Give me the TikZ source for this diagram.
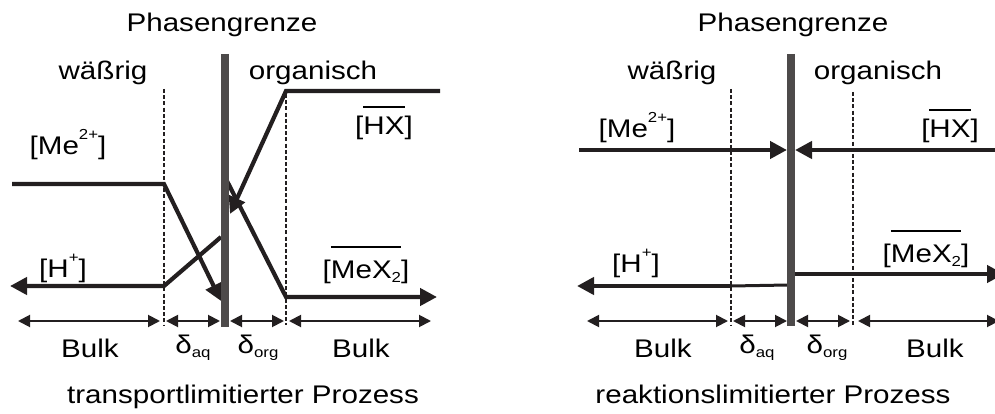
\documentclass[tikz,border=0pt]{standalone}
\usepackage{fontspec}
\setmainfont[FakeStretch=1.16]{Liberation Sans}
\usetikzlibrary{arrows.meta}
\definecolor{ink}{RGB}{35,31,32}
\definecolor{wallgray}{RGB}{77,74,74}
% small raised / lowered indices
\newcommand\supr[1]{\raisebox{15pt}{\fontsize{14.5}{14.5}\selectfont #1}}
\newcommand\subr[1]{\raisebox{-4pt}{\fontsize{14.5}{14.5}\selectfont #1}}
% bar over a species of the organic phase
\newcommand\ovl[2][9pt]{\leavevmode\vbox{\hrule height 2pt\kern#1\hbox{#2}}}
\begin{document}
\begin{tikzpicture}[x=1pt,y=-1pt,
  txt/.style={inner sep=0pt, anchor=base, font=\fontsize{25.5}{25.5}\selectfont},
  wall/.style={line width=8pt, draw=wallgray},
  sep/.style={line width=1.6pt, draw=ink, dash pattern=on 4pt off 2.2pt},
  conc/.style={line width=4.2pt, draw=ink, line join=miter, -{Triangle[length=17pt,width=17pt]}},
  flat/.style={line width=3pt, draw=ink},
  span/.style={line width=1.9pt, draw=ink,
    {Triangle[length=12pt,width=12pt]}-{Triangle[length=12pt,width=12pt]}},
]
\clip (0,0) rectangle (995,414);

% ---------------- transport-limited case ----------------
\coordinate (Lwt) at (225,54);  \coordinate (Lwb) at (225,327);
\coordinate (Ldat) at (164,89); \coordinate (Ldab) at (164,325);
\coordinate (Ldot) at (286,94); \coordinate (Ldob) at (286,325);

\coordinate (Lm0) at (12,184);  \coordinate (Lm1) at (164,184); \coordinate (Lm2) at (221,301);
\coordinate (Lx0) at (440,91);  \coordinate (Lx1) at (286,91);  \coordinate (Lx2) at (230,214);
\coordinate (Lh0) at (221,237); \coordinate (Lh1) at (164,286); \coordinate (Lh2) at (10,286);
\coordinate (Lc0) at (227,181); \coordinate (Lc1) at (286,297); \coordinate (Lc2) at (437,297);

\draw[sep] (Ldat) -- (Ldab);
\draw[sep] (Ldot) -- (Ldob);
\draw[conc] (Lm0) -- (Lm1) -- (Lm2);
\draw[conc] (Lx0) -- (Lx1) -- (Lx2);
\draw[conc] (Lh0) -- (Lh1) -- (Lh2);
\draw[conc] (Lc0) -- (Lc1) -- (Lc2);
\draw[wall] (Lwt) -- (Lwb);

\coordinate (Ls0) at (18,321);  \coordinate (Ls1) at (160,321);
\coordinate (Ls2) at (166,321); \coordinate (Ls3) at (220,321);
\coordinate (Ls4) at (230,321); \coordinate (Ls5) at (284,321);
\coordinate (Ls6) at (289,321); \coordinate (Ls7) at (431,321);
\draw[span] (Ls0) -- (Ls1);
\draw[span] (Ls2) -- (Ls3);
\draw[span] (Ls4) -- (Ls5);
\draw[span] (Ls6) -- (Ls7);

\node[txt] (Ltitle) at (222,32) {Phasengrenze};
\node[txt] (Laq)    at (103,80) {wäßrig};
\node[txt] (Lorg)   at (313,80) {organisch};
\node[txt] (LMe)    at (68,155) {[Me\supr{2+}]};
\node[txt] (LHX)    at (384,135) {[\ovl{HX}]};
\node[txt] (LH)     at (63,277) {[H\supr{+}]};
\node[txt] (LMeX)   at (366,278) {[\ovl[12pt]{MeX\subr{2}}]};
\node[txt] (Lb1)    at (90,357) {Bulk};
\node[txt] (Lda)    at (193,353) {δ\subr{aq}};
\node[txt] (Ldo)    at (258,353) {δ\subr{org}};
\node[txt] (Lb2)    at (361,357) {Bulk};
\node[txt] (Lcap)   at (243,403) {transportlimitierter Prozess};

% ---------------- reaction-limited case ----------------
\coordinate (Rwt) at (791,54);  \coordinate (Rwb) at (791,326);
\coordinate (Rdat) at (731,89); \coordinate (Rdab) at (731,325);
\coordinate (Rdot) at (853,92); \coordinate (Rdob) at (853,325);

\coordinate (Rm0) at (579,150); \coordinate (Rm1) at (787,150);
\coordinate (Rx0) at (1000,150); \coordinate (Rx1) at (795,150);
\coordinate (Rh0) at (731,286); \coordinate (Rh1) at (577,286);
\coordinate (Rh2) at (788,285);
\coordinate (Rc0) at (795,274); \coordinate (Rc1) at (1004,274);

\draw[sep] (Rdat) -- (Rdab);
\draw[sep] (Rdot) -- (Rdob);
\draw[conc] (Rm0) -- (Rm1);
\draw[conc] (Rx0) -- (Rx1);
\draw[flat] (Rh0) -- (Rh2);
\draw[conc] (Rh0) -- (Rh1);
\draw[conc] (Rc0) -- (Rc1);
\draw[wall] (Rwt) -- (Rwb);

\coordinate (Rs0) at (587,321); \coordinate (Rs1) at (728,321);
\coordinate (Rs2) at (733,321); \coordinate (Rs3) at (787,321);
\coordinate (Rs4) at (796,321); \coordinate (Rs5) at (850,321);
\coordinate (Rs6) at (858,321); \coordinate (Rs7) at (999,321);
\draw[span] (Rs0) -- (Rs1);
\draw[span] (Rs2) -- (Rs3);
\draw[span] (Rs4) -- (Rs5);
\draw[span] (Rs6) -- (Rs7);

\node[txt] (Rtitle) at (793,32) {Phasengrenze};
\node[txt] (Raq)    at (672,80) {wäßrig};
\node[txt] (Rorg)   at (878,80) {organisch};
\node[txt] (RMe)    at (637,138) {[Me\supr{2+}]};
\node[txt] (RHX)    at (950,138) {[\ovl{HX}]};
\node[txt] (RH)     at (636,272) {[H\supr{+}]};
\node[txt] (RMeX)   at (926,262) {[\ovl[12pt]{MeX\subr{2}}]};
\node[txt] (Rb1)    at (663,357) {Bulk};
\node[txt] (Rda)    at (757,353) {δ\subr{aq}};
\node[txt] (Rdo)    at (827,353) {δ\subr{org}};
\node[txt] (Rb2)    at (935,357) {Bulk};
\node[txt] (Rcap)   at (773,403) {reaktionslimitierter Prozess};
\end{tikzpicture}
\end{document}
